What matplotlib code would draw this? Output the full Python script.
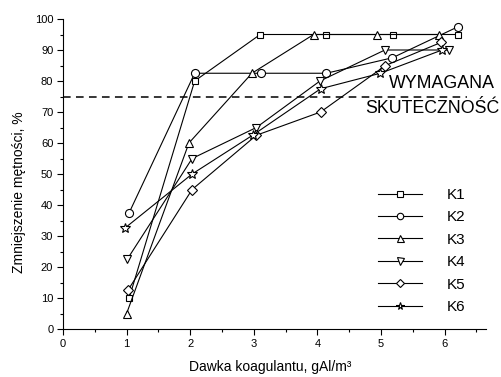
import matplotlib
matplotlib.use("Agg")
import matplotlib.pyplot as plt
from matplotlib.ticker import MultipleLocator

plt.rcParams['font.family'] = ['Liberation Sans', 'DejaVu Sans']

# Coagulant dose (gAl/m3) and turbidity reduction (%) for each coagulant
labels = ["K1", "K2", "K3", "K4", "K5", "K6"]
markers = ["s", "o", "^", "v", "D", "*"]

k1_x = [1.04, 2.07, 3.10, 4.14, 5.19, 6.21]
k1_y = [10, 80, 95, 95, 95, 95]
k2_x = [1.04, 2.07, 3.11, 4.14, 5.18, 6.21]
k2_y = [37.5, 82.5, 82.5, 82.5, 87.5, 97.5]
k3_x = [1.00, 1.98, 2.97, 3.94, 4.93, 5.91]
k3_y = [5, 60, 82.5, 95, 95, 95]
k4_x = [1.01, 2.03, 3.04, 4.04, 5.06, 6.07]
k4_y = [22.5, 55, 65, 80, 90, 90]
k5_x = [1.02, 2.03, 3.04, 4.05, 5.07, 5.95]
k5_y = [12.5, 45, 62.5, 70, 85, 92.5]
k6_x = [0.97, 2.03, 2.98, 4.05, 4.99, 5.96]
k6_y = [32.5, 50, 62.5, 77.5, 82.5, 90]

series_x = [k1_x, k2_x, k3_x, k4_x, k5_x, k6_x]
series_y = [k1_y, k2_y, k3_y, k4_y, k5_y, k6_y]

required = 75

marker_sizes = {"s": 5.0, "o": 5.8, "^": 6.3, "v": 6.3, "D": 4.8, "*": 7.0}

W, H = 502, 377
fig = plt.figure(figsize=(W / 100, H / 100), dpi=100)
ax = fig.add_axes([63 / W, 1 - 329 / H, (486 - 63) / W, (329 - 19) / H])

for xs, ys, m, lab in zip(series_x, series_y, markers, labels):
    ax.plot(xs, ys, color="black", lw=0.8, marker=m,
            markersize=marker_sizes[m],
            markerfacecolor="white", markeredgecolor="black",
            markeredgewidth=0.8, label=lab)

ax.plot([0, 6.35], [required, required], color="black", lw=1.1,
        linestyle=(0, (5, 3.5)), zorder=0)

ax.set_xlim(0, 6.65)
ax.set_ylim(0, 100)
ax.xaxis.set_major_locator(MultipleLocator(1))
ax.xaxis.set_minor_locator(MultipleLocator(0.5))
ax.yaxis.set_major_locator(MultipleLocator(10))
ax.yaxis.set_minor_locator(MultipleLocator(5))
ax.tick_params(which="major", direction="out", length=4, width=0.8,
               labelsize=8, pad=3)
ax.tick_params(which="minor", direction="out", length=2.5, width=0.8)

for s in ("top", "right"):
    ax.spines[s].set_visible(False)
for s in ("left", "bottom"):
    ax.spines[s].set_linewidth(0.8)

ax.set_xlabel("Dawka koagulantu, gAl/m³", fontsize=10)
ax.xaxis.set_label_coords(0.49, -0.1)
ax.set_ylabel("Zmniejszenie mętności, %", fontsize=10)
ax.yaxis.set_label_coords(-0.088, 0.44)

fig.text(495 / W, 1 - 84 / H, "WYMAGANA", fontsize=12.8,
         ha="right", va="center")
fig.text(499 / W, 1 - 108 / H, "SKUTECZNOŚĆ", fontsize=12.8,
         ha="right", va="center")

leg = ax.legend(loc="upper left", bbox_to_anchor=(378 / W, 1 - 188 / H),
                bbox_transform=fig.transFigure, frameon=False, fontsize=11,
                markerscale=0.8, handlelength=2.9, handletextpad=1.6,
                labelspacing=0.55, borderpad=0, borderaxespad=0, numpoints=1)

fig.savefig("out.png", dpi=100)
